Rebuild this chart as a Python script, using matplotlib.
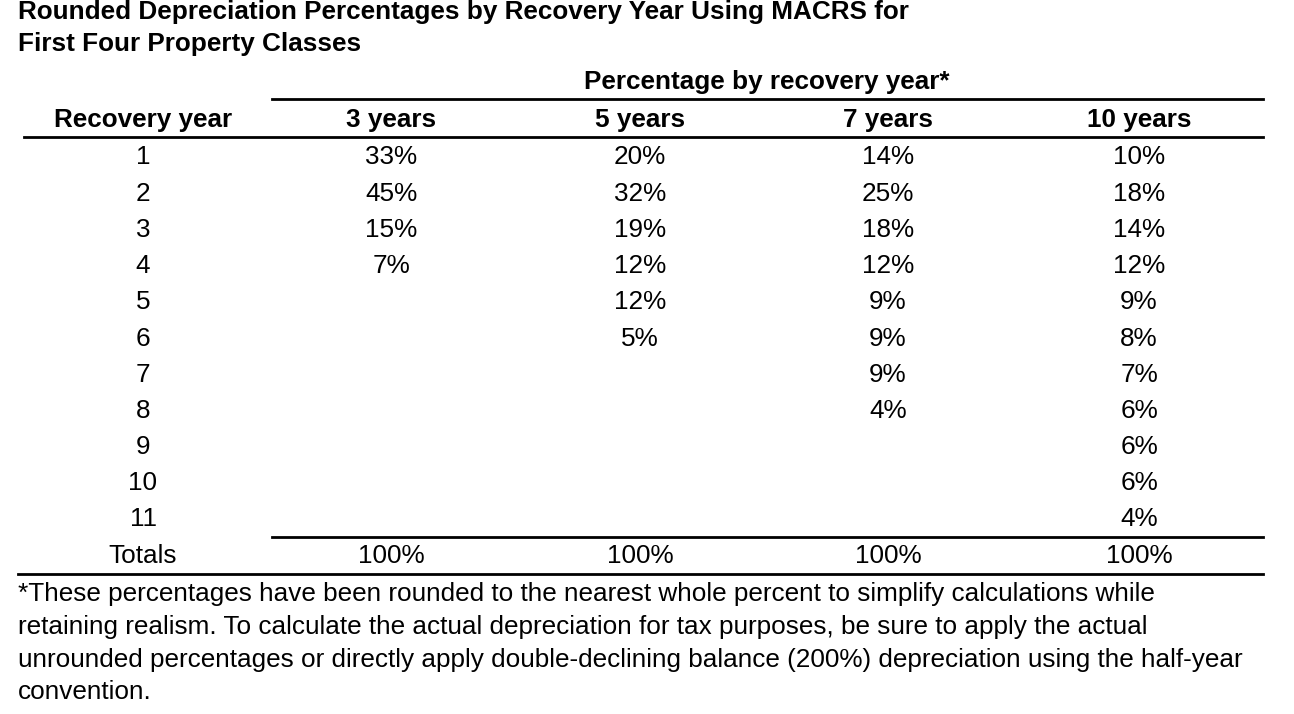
import matplotlib.pyplot as plt

plt.rcParams['font.family'] = ['Liberation Sans', 'DejaVu Sans']

title = ["Rounded Depreciation Percentages by Recovery Year Using MACRS for",
         "First Four Property Classes"]
group_header = "Percentage by recovery year*"
col_headers = ["Recovery year", "3 years", "5 years", "7 years", "10 years"]
years = [str(i) for i in range(1, 12)]
pct_3 = ["33%", "45%", "15%", "7%"]
pct_5 = ["20%", "32%", "19%", "12%", "12%", "5%"]
pct_7 = ["14%", "25%", "18%", "12%", "9%", "9%", "9%", "4%"]
pct_10 = ["10%", "18%", "14%", "12%", "9%", "8%", "7%", "6%", "6%", "6%", "4%"]
totals = ["Totals", "100%", "100%", "100%", "100%"]
footnote = ["*These percentages have been rounded to the nearest whole percent to simplify calculations while",
            "retaining realism. To calculate the actual depreciation for tax purposes, be sure to apply the actual",
            "unrounded percentages or directly apply double-declining balance (200%) depreciation using the half-year",
            "convention."]

fig = plt.figure(figsize=(12.94, 7.14), dpi=100)
ax = fig.add_axes([0, 0, 1, 1])
ax.set_xlim(0, 1294)
ax.set_ylim(714, 0)
ax.axis('off')

fs = 18.8
col_x = [143, 391, 640, 888, 1139]
sh = 2.5  # pequeño ajuste vertical

# titulo
for i, t in enumerate(title):
    ax.text(18, 10 + 32 * i + sh, t, fontsize=fs, fontweight='bold', va='center', ha='left')

ax.text(767, 79 + sh, group_header, fontsize=fs, fontweight='bold', va='center', ha='center')
ax.plot([272, 1263], [99, 99], color='black', lw=2)

for x, h in zip(col_x, col_headers):
    ax.text(x, 117 + sh, h, fontsize=fs, fontweight='bold', va='center', ha='center')
ax.plot([24, 1263], [137, 137], color='black', lw=2)

# filas
y0 = 155
dy = 36.2
for i, yr in enumerate(years):
    ax.text(col_x[0], y0 + i * dy + sh, yr, fontsize=fs, va='center', ha='center')
for j, col in enumerate([pct_3, pct_5, pct_7, pct_10]):
    for i, v in enumerate(col):
        ax.text(col_x[j + 1], y0 + i * dy + sh, v, fontsize=fs, va='center', ha='center')

yt = y0 + len(years) * dy
ax.plot([272, 1263], [537, 537], color='black', lw=2)
for x, t in zip(col_x, totals):
    ax.text(x, yt + sh, t, fontsize=fs, va='center', ha='center')
ax.plot([18, 1263], [574, 574], color='black', lw=2)

for i, t in enumerate(footnote):
    ax.text(18, 592 + 32.5 * i + sh, t, fontsize=fs, va='center', ha='left')

fig.savefig('out.png', dpi=100)
